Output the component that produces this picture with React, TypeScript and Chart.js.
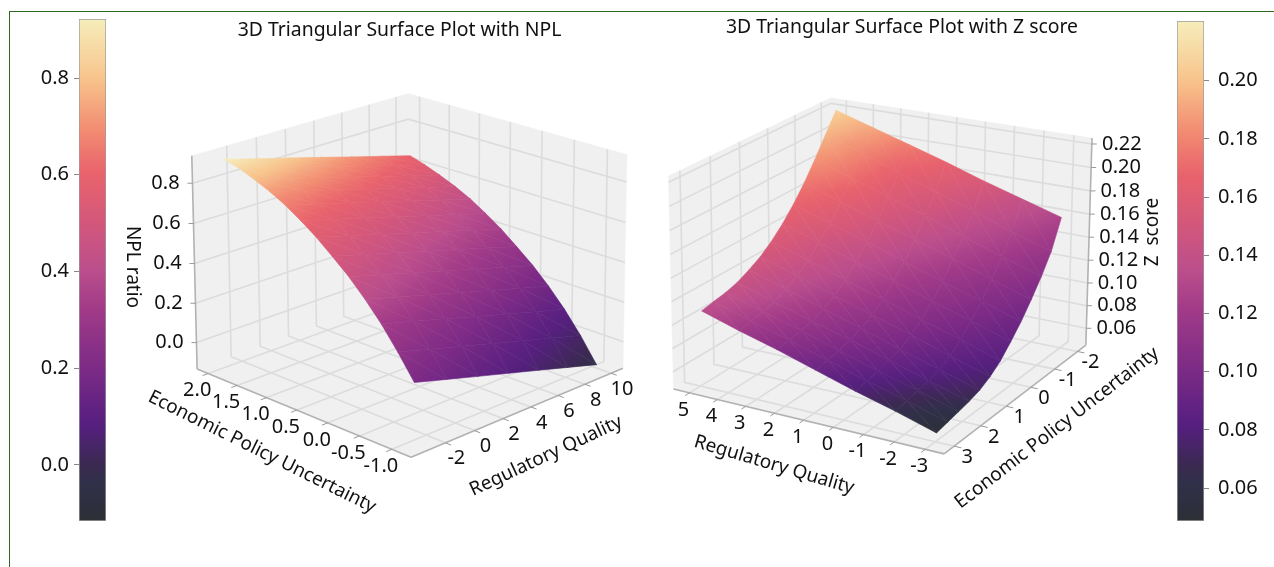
import React, { useEffect, useRef } from "react";
import { Chart, registerables } from "chart.js";

Chart.register(...registerables);

// ---------- data ----------
const NPL_RQ_GRID = [-3.23, -1.05, 1.13, 3.31, 5.49, 7.67, 9.85];
const NPL_EPU_GRID = [1.92, 1.67, 1.42, 1.16, 0.91, 0.66, 0.41, 0.16, -0.1, -0.35, -0.6, -0.85, -1.1];
const NPL_VALUES = [
  [0.92, 0.876, 0.832, 0.788, 0.743, 0.699, 0.655],
  [0.9, 0.855, 0.81, 0.765, 0.72, 0.675, 0.63],
  [0.87, 0.825, 0.78, 0.735, 0.69, 0.645, 0.6],
  [0.835, 0.79, 0.745, 0.7, 0.655, 0.61, 0.565],
  [0.795, 0.75, 0.705, 0.66, 0.615, 0.57, 0.525],
  [0.745, 0.7, 0.655, 0.61, 0.565, 0.52, 0.475],
  [0.69, 0.645, 0.6, 0.555, 0.51, 0.465, 0.42],
  [0.625, 0.58, 0.535, 0.49, 0.445, 0.4, 0.355],
  [0.555, 0.51, 0.465, 0.42, 0.375, 0.33, 0.285],
  [0.475, 0.43, 0.385, 0.34, 0.295, 0.25, 0.205],
  [0.385, 0.34, 0.295, 0.25, 0.205, 0.16, 0.115],
  [0.28, 0.235, 0.19, 0.145, 0.1, 0.055, 0.01],
  [0.165, 0.119, 0.073, 0.028, -0.018, -0.064, -0.11],
];
const NPL_SHADES = [
  [0.92, 0.867, 0.813, 0.76, 0.707, 0.653, 0.6],
  [0.855, 0.805, 0.755, 0.705, 0.655, 0.605, 0.555],
  [0.79, 0.743, 0.697, 0.65, 0.603, 0.557, 0.51],
  [0.725, 0.682, 0.638, 0.595, 0.552, 0.508, 0.465],
  [0.665, 0.624, 0.583, 0.543, 0.502, 0.461, 0.42],
  [0.61, 0.571, 0.532, 0.493, 0.453, 0.414, 0.375],
  [0.56, 0.523, 0.485, 0.448, 0.41, 0.373, 0.335],
  [0.51, 0.472, 0.433, 0.395, 0.357, 0.318, 0.28],
  [0.46, 0.421, 0.382, 0.343, 0.303, 0.264, 0.225],
  [0.405, 0.365, 0.325, 0.285, 0.245, 0.205, 0.165],
  [0.33, 0.292, 0.253, 0.215, 0.177, 0.138, 0.1],
  [0.265, 0.227, 0.188, 0.15, 0.112, 0.073, 0.035],
  [0.2, 0.162, 0.123, 0.085, 0.047, 0.008, -0.03],
];
const NPL_RQ_TICKS = [-2, 0, 2, 4, 6, 8, 10];
const NPL_EPU_TICKS = [-1.0, -0.5, 0.0, 0.5, 1.0, 1.5, 2.0];
const NPL_Z_TICKS = [0.0, 0.2, 0.4, 0.6, 0.8];
const NPL_BAR_TICKS = [0.0, 0.2, 0.4, 0.6, 0.8];

const ZS_RQ_GRID = [5.03, 3.7, 2.37, 1.05, -0.28, -1.61, -2.94];
const ZS_EPU_GRID = [-2.0, -1.59, -1.19, -0.78, -0.37, 0.04, 0.45, 0.85, 1.26, 1.67, 2.07, 2.48, 2.89];
const ZS_VALUES = [
  [0.22, 0.21, 0.2, 0.19, 0.179, 0.169, 0.159],
  [0.203, 0.192, 0.18, 0.169, 0.158, 0.146, 0.135],
  [0.186, 0.175, 0.164, 0.153, 0.141, 0.13, 0.119],
  [0.17, 0.159, 0.148, 0.138, 0.127, 0.116, 0.105],
  [0.156, 0.145, 0.135, 0.124, 0.113, 0.103, 0.092],
  [0.144, 0.134, 0.123, 0.113, 0.102, 0.092, 0.081],
  [0.134, 0.124, 0.113, 0.103, 0.092, 0.082, 0.071],
  [0.126, 0.116, 0.105, 0.095, 0.085, 0.074, 0.064],
  [0.12, 0.11, 0.1, 0.09, 0.079, 0.069, 0.059],
  [0.115, 0.105, 0.095, 0.086, 0.076, 0.066, 0.056],
  [0.112, 0.102, 0.093, 0.083, 0.073, 0.064, 0.054],
  [0.11, 0.1, 0.091, 0.081, 0.071, 0.062, 0.052],
  [0.108, 0.098, 0.089, 0.079, 0.069, 0.06, 0.05],
];
const ZS_SHADES = [
  [0.205, 0.191, 0.177, 0.166, 0.154, 0.141, 0.128],
  [0.195, 0.18, 0.165, 0.155, 0.142, 0.129, 0.116],
  [0.185, 0.172, 0.158, 0.146, 0.133, 0.121, 0.108],
  [0.175, 0.163, 0.15, 0.138, 0.126, 0.113, 0.101],
  [0.167, 0.155, 0.143, 0.13, 0.118, 0.106, 0.094],
  [0.16, 0.148, 0.136, 0.124, 0.112, 0.1, 0.088],
  [0.155, 0.143, 0.131, 0.118, 0.106, 0.094, 0.082],
  [0.15, 0.138, 0.125, 0.113, 0.101, 0.088, 0.076],
  [0.146, 0.134, 0.121, 0.108, 0.096, 0.083, 0.071],
  [0.143, 0.13, 0.117, 0.104, 0.092, 0.079, 0.066],
  [0.14, 0.127, 0.113, 0.1, 0.087, 0.073, 0.06],
  [0.137, 0.123, 0.11, 0.096, 0.082, 0.069, 0.055],
  [0.135, 0.121, 0.106, 0.092, 0.078, 0.064, 0.05],
];
const ZS_RQ_TICKS = [-3, -2, -1, 0, 1, 2, 3, 4, 5];
const ZS_EPU_TICKS = [-2, -1, 0, 1, 2, 3];
const ZS_Z_TICKS = [0.06, 0.08, 0.1, 0.12, 0.14, 0.16, 0.18, 0.2, 0.22];
const ZS_BAR_TICKS = [0.06, 0.08, 0.1, 0.12, 0.14, 0.16, 0.18, 0.2];

const COLOR_POS = [0, 0.08, 0.11, 0.19, 0.3, 0.42, 0.5, 0.6, 0.693, 0.78, 0.882, 1];
const COLOR_HEX = ["#2d2f35", "#30304a", "#3a2a50", "#551f7f", "#7b2a86", "#a03a88", "#bb4e8c", "#d5587a", "#e9636c", "#f28c72", "#f8c48c", "#f6eebb"];

// ---------- helpers ----------
const FONT = "'Noto Sans', sans-serif";
const W = 1274;
const H = 567;

const hexRgb = (h: string) => [1, 3, 5].map((i) => parseInt(h.slice(i, i + 2), 16));
function colormap(f: number) {
  const t = Math.max(0, Math.min(1, f));
  let i = 0;
  while (i < COLOR_POS.length - 2 && t > COLOR_POS[i + 1]) i++;
  const a = hexRgb(COLOR_HEX[i]);
  const b = hexRgb(COLOR_HEX[i + 1]);
  const k = (t - COLOR_POS[i]) / (COLOR_POS[i + 1] - COLOR_POS[i]);
  return `rgb(${a.map((v, j) => Math.round(v + (b[j] - v) * k)).join(",")})`;
}

function solve(A: number[][], b: number[]) {
  const n = b.length;
  const M = A.map((r, i) => [...r, b[i]]);
  for (let c = 0; c < n; c++) {
    let p = c;
    for (let r = c + 1; r < n; r++) if (Math.abs(M[r][c]) > Math.abs(M[p][c])) p = r;
    [M[c], M[p]] = [M[p], M[c]];
    for (let r = 0; r < n; r++) {
      if (r === c) continue;
      const k = M[r][c] / M[c][c];
      for (let j = c; j <= n; j++) M[r][j] -= k * M[c][j];
    }
  }
  return M.map((r, i) => r[n] / r[i]);
}

function fitCamera(corners: number[][]) {
  const rows: number[][] = [];
  const rhs: number[] = [];
  for (const [u, v, w, X, Y] of corners) {
    rows.push([u, v, w, 1, 0, 0, 0, 0, -X * u, -X * v, -X * w]);
    rhs.push(X);
    rows.push([0, 0, 0, 0, u, v, w, 1, -Y * u, -Y * v, -Y * w]);
    rhs.push(Y);
  }
  const n = 11;
  const A = Array.from({ length: n }, (_, i) =>
    Array.from({ length: n }, (_, j) => rows.reduce((s, r) => s + r[i] * r[j], 0))
  );
  const b = Array.from({ length: n }, (_, i) => rows.reduce((s, r, k) => s + r[i] * rhs[k], 0));
  const p = solve(A, b);
  return (u: number, v: number, w: number) => {
    const d = p[8] * u + p[9] * v + p[10] * w + 1;
    return { x: (p[0] * u + p[1] * v + p[2] * w + p[3]) / d, y: (p[4] * u + p[5] * v + p[6] * w + p[7]) / d };
  };
}

type Pt = { x: number; y: number };
type Label = { text: string; x: number; y: number; angle?: number; size: number };

const PANELS = [
  {
    title: "3D Triangular Surface Plot with NPL",
    titlePos: [399.5, 30],
    corners: [
      [0, 1, 0, 197, 368], [0, 0, 0, 411, 458], [1, 0, 0, 623, 367], [1, 1, 0, 409, 294],
      [0, 1, 1, 192, 156], [1, 0, 1, 627, 155], [1, 1, 1, 408, 93],
    ],
    rqRange: [-4.3, 10.93], epuRange: [-1.29, 2.195], zRange: [-0.135, 0.935],
    cRange: [-0.116, 0.922],
    wallU: 1, wallV: 1, zEdge: [0, 1], zSide: -1,
    rqGrid: NPL_RQ_GRID, epuGrid: NPL_EPU_GRID, values: NPL_VALUES, shades: NPL_SHADES,
    rqTicks: NPL_RQ_TICKS, epuTicks: NPL_EPU_TICKS, zTicks: NPL_Z_TICKS,
    rqFmt: 0, epuFmt: 1, zFmt: 1,
    rqOff: [11, 16], epuOff: [-11, 17], zOff: -27,
    labels: [
      { text: "NPL ratio", x: 132, y: 267, angle: 90 },
      { text: "Economic Policy Uncertainty", x: 262, y: 452, angle: 26.5 },
      { text: "Regulatory Quality", x: 546, y: 456, angle: -25 },
    ],
  },
  {
    title: "3D Triangular Surface Plot with Z score",
    titlePos: [902, 27],
    corners: [
      [1, 1, 0, 674, 389], [0, 1, 0, 945, 453], [0, 0, 0, 1086, 347], [1, 0, 0, 830, 292],
      [1, 1, 1, 667, 177], [0, 0, 1, 1091, 137], [1, 0, 1, 833, 98],
    ],
    rqRange: [-3.6, 5.58], epuRange: [-2.37, 3.37], zRange: [0.045, 0.225],
    cRange: [0.0487, 0.2205],
    wallU: 1, wallV: 0, zEdge: [0, 0], zSide: 1,
    rqGrid: ZS_RQ_GRID, epuGrid: ZS_EPU_GRID, values: ZS_VALUES, shades: ZS_SHADES,
    rqTicks: ZS_RQ_TICKS, epuTicks: ZS_EPU_TICKS, zTicks: ZS_Z_TICKS,
    rqFmt: 0, epuFmt: 0, zFmt: 2,
    rqOff: [-6, 17], epuOff: [13, 11], zOff: 30,
    labels: [
      { text: "Z  score", x: 1153, y: 232, angle: -90 },
      { text: "Economic Policy Uncertainty", x: 1057, y: 428, angle: -37.6 },
      { text: "Regulatory Quality", x: 774, y: 465, angle: 16.5 },
    ],
  },
];

const lineSet = (data: Pt[], color: string, width: number) => ({
  data, showLine: true, borderColor: color, borderWidth: width, pointRadius: 0, fill: false, clip: false as const, tension: 0,
});
const fillSet = (data: Pt[], color: any, stroke: any, width: number) => ({
  data, showLine: true, backgroundColor: color, borderColor: stroke, borderWidth: width, pointRadius: 0, fill: "shape", clip: false as const, tension: 0,
});

function triGradient(ctx: CanvasRenderingContext2D, p: Pt[], v: number[], c: number[]) {
  const f = (x: number) => (x - c[0]) / (c[1] - c[0]);
  const d1x = p[1].x - p[0].x, d1y = p[1].y - p[0].y, d2x = p[2].x - p[0].x, d2y = p[2].y - p[0].y;
  const dv1 = v[1] - v[0], dv2 = v[2] - v[0];
  const det = d1x * d2y - d2x * d1y;
  const vmin = Math.min(...v), vmax = Math.max(...v);
  if (Math.abs(det) < 1e-6 || vmax - vmin < 1e-9) return colormap(f((vmin + vmax) / 2));
  const gx = (dv1 * d2y - dv2 * d1y) / det;
  const gy = (d1x * dv2 - d2x * dv1) / det;
  const g2 = gx * gx + gy * gy;
  const s = p[v.indexOf(vmin)];
  const e = (vmax - vmin) / g2;
  const grad = ctx.createLinearGradient(s.x, s.y, s.x + gx * e, s.y + gy * e);
  for (let i = 0; i <= 4; i++) grad.addColorStop(i / 4, colormap(f(vmin + ((vmax - vmin) * i) / 4)));
  return grad;
}

function buildPanel(ctx: CanvasRenderingContext2D, P: (typeof PANELS)[number], out: any[], texts: Label[]) {
  const cam = fitCamera(P.corners);
  const U = (a: number) => (a - P.rqRange[0]) / (P.rqRange[1] - P.rqRange[0]);
  const V = (a: number) => (a - P.epuRange[0]) / (P.epuRange[1] - P.epuRange[0]);
  const Z = (a: number) => (a - P.zRange[0]) / (P.zRange[1] - P.zRange[0]);
  const wu = P.wallU, wv = P.wallV, fu = 1 - wu, fv = 1 - wv;
  const PANE = "#f0f0f0", GRID = "#dcdcdc", EDGE = "#b2b2b2", TICK = "#999999";

  out.push(fillSet([cam(0, 0, 0), cam(1, 0, 0), cam(1, 1, 0), cam(0, 1, 0), cam(0, 0, 0)], PANE, PANE, 0.5));
  out.push(fillSet([cam(wu, 0, 0), cam(wu, 1, 0), cam(wu, 1, 1), cam(wu, 0, 1), cam(wu, 0, 0)], PANE, PANE, 0.5));
  out.push(fillSet([cam(0, wv, 0), cam(1, wv, 0), cam(1, wv, 1), cam(0, wv, 1), cam(0, wv, 0)], PANE, PANE, 0.5));

  const outV = fv === 0 ? -0.025 : 0.025;
  const outU = fu === 0 ? -0.025 : 0.025;
  P.rqTicks.forEach((t) => {
    const u = U(t);
    out.push(lineSet([cam(u, fv, 0), cam(u, wv, 0), cam(u, wv, 1)], GRID, 1.6));
  });
  P.epuTicks.forEach((t) => {
    const v = V(t);
    out.push(lineSet([cam(fu, v, 0), cam(wu, v, 0), cam(wu, v, 1)], GRID, 1.6));
  });
  P.zTicks.forEach((t) => {
    const w = Z(t);
    out.push(lineSet([cam(fu, wv, w), cam(wu, wv, w), cam(wu, fv, w)], GRID, 1.6));
  });

  out.push(lineSet([cam(0, fv, 0), cam(1, fv, 0)], EDGE, 1.6));
  out.push(lineSet([cam(fu, 0, 0), cam(fu, 1, 0)], EDGE, 1.6));
  out.push(lineSet([cam(P.zEdge[0], P.zEdge[1], 0), cam(P.zEdge[0], P.zEdge[1], 1)], EDGE, 1.6));

  P.rqTicks.forEach((t) => {
    const u = U(t);
    const a = cam(u, fv, 0);
    out.push(lineSet([a, cam(u, fv + outV, 0)], TICK, 1));
    texts.push({ text: t.toFixed(P.rqFmt), x: a.x + P.rqOff[0], y: a.y + P.rqOff[1], size: 20 });
  });
  P.epuTicks.forEach((t) => {
    const v = V(t);
    const a = cam(fu, v, 0);
    out.push(lineSet([a, cam(fu + outU, v, 0)], TICK, 1));
    texts.push({ text: t.toFixed(P.epuFmt), x: a.x + P.epuOff[0], y: a.y + P.epuOff[1], size: 20 });
  });
  P.zTicks.forEach((t) => {
    const a = cam(P.zEdge[0], P.zEdge[1], Z(t));
    out.push(lineSet([a, { x: a.x + P.zSide * 5, y: a.y }], TICK, 1));
    texts.push({ text: t.toFixed(P.zFmt), x: a.x + P.zOff, y: a.y, size: 20 });
  });

  for (let r = 0; r < P.values.length - 1; r++) {
    for (let c = 0; c < P.rqGrid.length - 1; c++) {
      const vert = (rr: number, cc: number) => cam(U(P.rqGrid[cc]), V(P.epuGrid[rr]), Z(P.values[rr][cc]));
      const a = vert(r, c), b = vert(r, c + 1), d = vert(r + 1, c), e = vert(r + 1, c + 1);
      const S = P.shades;
      const tris: [Pt[], number[]][] = [
        [[a, b, e], [S[r][c], S[r][c + 1], S[r + 1][c + 1]]],
        [[a, e, d], [S[r][c], S[r + 1][c + 1], S[r + 1][c]]],
      ];
      tris.forEach(([pts, vals]) => {
        const g = triGradient(ctx, pts, vals, P.cRange);
        out.push(fillSet([pts[0], pts[1], pts[2], pts[0]], g, g, 0.6));
      });
    }
  }

  texts.push({ text: P.title, x: P.titlePos[0], y: P.titlePos[1], size: 19.4 });
  P.labels.forEach((l) => texts.push({ ...l, size: 19 }));
}

function makeColorbar(canvas: HTMLCanvasElement, range: number[], ticks: number[], decimals: number, side: "left" | "right") {
  return new Chart(canvas, {
    type: "bar",
    data: {
      labels: [""],
      datasets: [
        {
          data: [range as any],
          barPercentage: 1,
          categoryPercentage: 1,
          borderWidth: 1,
          borderSkipped: false,
          borderColor: "#9c9c9c",
          backgroundColor: (c: any) => {
            const area = c.chart.chartArea;
            if (!area) return "#888";
            const g = c.chart.ctx.createLinearGradient(0, area.bottom, 0, area.top);
            for (let i = 0; i <= 64; i++) g.addColorStop(i / 64, colormap(i / 64));
            return g;
          },
        },
      ],
    },
    options: {
      animation: false,
      responsive: false,
      layout: { padding: { top: 16, bottom: 16, left: 0, right: 0 } },
      plugins: { legend: { display: false }, tooltip: { enabled: false } },
      scales: {
        x: { display: false },
        y: {
          position: side,
          min: range[0],
          max: range[1],
          afterBuildTicks: (s: any) => { s.ticks = ticks.map((value) => ({ value })); },
          afterFit: (s: any) => { s.width = 60; },
          border: { display: false },
          grid: { drawOnChartArea: false, drawTicks: true, tickLength: 5, color: "#888888" },
          ticks: {
            color: "#111111",
            font: { family: FONT, size: 20 },
            padding: side === "left" ? 5 : 9,
            callback: (v: any) => Number(v).toFixed(decimals),
          },
        },
      },
    } as any,
  });
}

export default function App() {
  const main = useRef<HTMLCanvasElement>(null);
  const left = useRef<HTMLCanvasElement>(null);
  const right = useRef<HTMLCanvasElement>(null);

  useEffect(() => {
    const ctx = main.current!.getContext("2d")!;
    const list: any[] = [];
    const texts: Label[] = [];
    PANELS.forEach((p) => buildPanel(ctx, p, list, texts));
    const datasets = list.map((d, i) => ({ ...d, order: list.length - i }));
    const textPlugin = {
      id: "texts",
      afterDatasetsDraw(chart: any) {
        const c = chart.ctx;
        const sx = chart.scales.x, sy = chart.scales.y;
        texts.forEach((t) => {
          c.save();
          c.translate(sx.getPixelForValue(t.x), sy.getPixelForValue(t.y));
          c.rotate(((t.angle || 0) * Math.PI) / 180);
          c.font = `${t.size}px ${FONT}`;
          c.fillStyle = "#111111";
          c.textAlign = "center";
          c.textBaseline = "middle";
          c.fillText(t.text, 0, 0);
          c.restore();
        });
      },
    };
    const chart = new Chart(main.current!, {
      type: "scatter",
      data: { datasets },
      options: {
        animation: false,
        responsive: false,
        layout: { padding: 0 },
        plugins: { legend: { display: false }, tooltip: { enabled: false } },
        scales: {
          x: { type: "linear", min: 0, max: W, display: false },
          y: { type: "linear", min: 0, max: H, reverse: true, display: false },
        },
      } as any,
      plugins: [textPlugin],
    });
    const a = makeColorbar(left.current!, [-0.116, 0.922], NPL_BAR_TICKS, 1, "left");
    const b = makeColorbar(right.current!, [0.0487, 0.2205], ZS_BAR_TICKS, 2, "right");
    return () => {
      chart.destroy();
      a.destroy();
      b.destroy();
    };
  }, []);

  const abs = (l: number, t: number): React.CSSProperties => ({ position: "absolute", left: l, top: t });
  return (
    <div style={{ position: "fixed", left: 0, top: 0, width: W, height: H, overflow: "hidden", background: "#fff" }}>
      <canvas ref={main} width={W} height={H} style={abs(0, 0)} />
      <canvas ref={left} width={87} height={536} style={abs(19, 2)} />
      <canvas ref={right} width={87} height={542} style={abs(1177, 0)} />
      <div style={{ position: "absolute", left: 9, top: 11, width: W, height: H, borderLeft: "1px solid #2e6b1e", borderTop: "1px solid #2e6b1e" }} />
    </div>
  );
}
